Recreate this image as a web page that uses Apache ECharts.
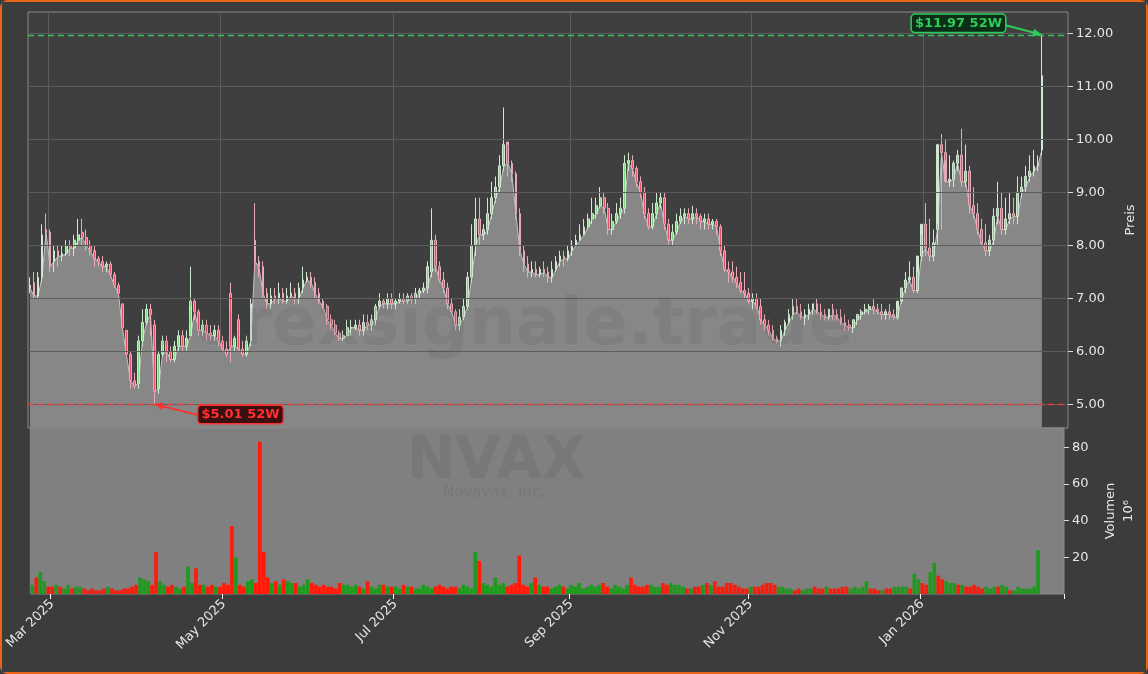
<!DOCTYPE html>
<html><head><meta charset="utf-8">
<script src="https://cdn.jsdelivr.net/npm/echarts@6/dist/echarts.min.js"></script>
<style>html,body{margin:0;padding:0;background:#3c3c3c;}#c{width:1148px;height:674px;box-sizing:border-box;border:2px solid #e8651a;border-radius:8px;}</style>
</head><body><div id="c"></div>
<script>
const opens=[7.2,7.3,7.05,7.4,8.3,8.25,7.7,7.9,7.8,7.85,
8.0,7.95,8.1,8.25,8.15,8.0,7.9,7.75,7.7,7.6,
7.65,7.45,7.25,6.9,6.4,5.95,5.45,5.4,6.2,6.55,
6.8,6.5,5.3,5.95,6.2,6.0,5.85,6.1,6.3,6.1,
6.3,6.95,6.75,6.4,6.5,6.35,6.3,6.4,6.2,6.05,
7.1,6.1,6.6,6.05,5.95,6.2,8.1,7.7,7.6,7.1,
6.9,7.05,7.0,7.1,6.95,7.05,7.1,7.0,7.2,7.35,
7.4,7.3,7.1,6.95,6.85,6.6,6.5,6.35,6.25,6.3,
6.45,6.45,6.5,6.4,6.55,6.5,6.6,6.85,6.95,6.9,
7.0,6.9,6.95,7.0,6.95,7.05,7.0,7.1,7.15,7.2,
7.5,8.1,7.6,7.35,7.2,6.9,6.75,6.5,6.65,6.85,
7.4,8.0,8.5,8.2,8.3,8.6,8.9,9.1,9.5,9.95,
9.55,9.35,8.6,7.9,7.65,7.5,7.55,7.45,7.55,7.5,
7.4,7.55,7.7,7.8,7.75,7.9,8.0,8.1,8.2,8.35,
8.5,8.6,8.75,8.9,8.7,8.3,8.45,8.6,8.7,9.55,
9.6,9.45,9.2,9.0,8.6,8.35,8.6,8.8,8.9,8.4,
8.1,8.25,8.45,8.55,8.6,8.5,8.6,8.55,8.45,8.5,8.4,8.45,
8.35,7.9,7.55,7.5,7.4,7.3,7.15,7.1,6.95,7.0,6.85,6.6,6.5,6.4,6.25,
6.2,6.4,6.55,6.7,6.85,6.75,6.65,6.7,6.8,6.9,
6.75,6.7,6.65,6.8,6.7,6.65,6.55,6.5,6.45,6.6,
6.7,6.75,6.8,6.85,6.8,6.75,6.7,6.75,6.7,6.65,6.95,7.2,
7.35,7.4,7.15,7.8,8.4,7.95,7.8,8.3,9.9,9.75,
9.2,9.25,9.55,9.7,9.2,9.4,8.75,8.6,8.3,8.05,
7.9,8.1,8.55,8.7,8.3,8.5,8.6,8.55,9.0,9.1,
9.3,9.4,9.5,9.8];
const closes=[7.25,7.05,7.4,8.2,8.25,7.6,7.9,7.8,7.85,8.0,
7.95,8.1,8.2,8.15,8.0,7.9,7.75,7.7,7.6,7.65,
7.45,7.25,7.1,6.45,5.95,5.45,5.35,6.2,6.55,6.8,
6.7,5.25,5.95,6.2,6.0,5.85,6.1,6.3,6.1,6.25,
6.95,6.75,6.4,6.5,6.35,6.3,6.4,6.2,6.05,5.95,
6.1,6.25,6.05,5.95,6.2,6.9,7.7,7.6,7.1,6.9,
7.05,7.0,7.1,6.95,7.05,7.1,7.0,7.2,7.35,7.4,
7.3,7.1,6.95,6.85,6.6,6.5,6.35,6.25,6.3,6.45,
6.45,6.5,6.4,6.55,6.5,6.6,6.85,6.95,6.9,7.0,
6.9,6.95,7.0,6.95,7.05,7.0,7.1,7.15,7.2,7.6,
8.1,7.6,7.35,7.2,6.9,6.75,6.5,6.65,6.85,7.4,
8.0,8.5,8.2,8.3,8.6,8.9,9.1,9.5,9.9,9.55,
9.35,8.6,7.9,7.65,7.5,7.55,7.45,7.55,7.5,7.4,
7.55,7.7,7.8,7.75,7.9,8.0,8.1,8.2,8.35,8.5,
8.6,8.75,8.9,8.7,8.3,8.45,8.6,8.7,9.55,9.6,
9.45,9.2,9.0,8.6,8.35,8.6,8.8,8.9,8.4,8.1,
8.25,8.45,8.55,8.6,8.5,8.6,8.55,8.45,8.5,8.4,8.45,8.35,
7.9,7.55,7.5,7.4,7.3,7.15,7.1,6.95,7.0,6.85,6.6,6.5,6.4,6.25,6.2,
6.4,6.55,6.7,6.85,6.75,6.65,6.7,6.8,6.9,6.75,
6.7,6.65,6.8,6.7,6.65,6.55,6.5,6.45,6.6,6.7,
6.75,6.8,6.85,6.8,6.75,6.7,6.75,6.7,6.65,6.95,7.2,7.35,
7.4,7.15,7.8,8.4,7.95,7.8,8.05,9.9,9.75,9.2,
9.25,9.55,9.7,9.2,9.4,8.75,8.6,8.3,8.05,7.9,
8.1,8.55,8.7,8.3,8.5,8.6,8.55,9.0,9.1,9.3,
9.4,9.5,9.55,11.2];
const highs=[7.4,7.5,7.5,8.4,8.6,8.3,8.0,8.0,8.0,8.1,
8.1,8.2,8.5,8.5,8.3,8.1,8.0,7.8,7.8,7.7,
7.7,7.5,7.3,6.9,6.4,6.0,5.6,6.3,6.8,6.9,
6.9,6.6,6.0,6.3,6.3,6.1,6.2,6.4,6.4,6.4,
7.6,7.0,6.8,6.6,6.6,6.5,6.5,6.5,6.3,6.2,
7.3,6.3,6.7,6.2,6.3,7.0,8.8,7.8,7.7,7.2,
7.2,7.2,7.3,7.2,7.2,7.3,7.2,7.3,7.6,7.5,
7.5,7.4,7.2,7.0,6.9,6.7,6.6,6.4,6.4,6.6,
6.6,6.6,6.6,6.7,6.7,6.7,6.9,7.1,7.0,7.1,
7.1,7.0,7.1,7.1,7.1,7.1,7.2,7.2,7.3,7.7,
8.7,8.2,7.7,7.5,7.3,7.0,6.8,6.8,7.0,7.5,
8.4,8.9,8.9,8.4,8.9,9.2,9.3,9.7,10.6,9.9,
9.6,9.4,8.7,8.0,7.8,7.7,7.7,7.6,7.7,7.6,
7.7,7.8,7.9,7.9,8.0,8.1,8.2,8.4,8.5,8.6,
8.9,8.9,9.1,9.0,8.8,8.6,8.8,8.9,9.7,9.75,
9.7,9.5,9.3,9.1,8.7,8.8,9.0,9.0,9.0,8.5,
8.4,8.6,8.7,8.7,8.7,8.75,8.7,8.6,8.6,8.6,8.5,8.5,
8.4,8.0,7.7,7.7,7.6,7.5,7.5,7.2,7.1,7.1,7.0,6.7,6.6,6.5,6.3,
6.5,6.6,6.8,7.0,7.0,6.9,6.8,6.9,6.9,7.0,
6.9,6.8,6.8,6.9,6.8,6.8,6.7,6.6,6.6,6.7,
6.8,6.9,6.9,7.0,6.9,6.9,6.8,6.9,6.8,6.8,7.2,7.5,
7.7,7.6,7.5,8.2,8.8,8.5,8.3,8.4,10.1,10.0,
9.7,9.6,9.8,10.2,9.9,9.5,9.1,8.8,8.5,8.4,
8.2,8.7,9.2,9.0,8.9,9.0,8.9,9.3,9.3,9.5,
9.7,9.8,9.7,11.97];
const lows=[7.1,7.0,7.0,7.3,8.0,7.5,7.5,7.6,7.7,7.8,
7.8,7.8,8.0,8.0,7.9,7.8,7.6,7.6,7.5,7.5,
7.4,7.2,7.0,6.4,5.9,5.3,5.3,5.3,6.1,6.5,
6.3,5.01,5.2,5.9,5.8,5.8,5.8,6.0,6.0,6.0,
6.3,6.6,6.3,6.3,6.2,6.2,6.2,6.1,6.0,5.9,
5.8,6.0,6.0,5.9,5.9,6.1,7.5,7.4,7.0,6.8,
6.8,6.9,6.9,6.9,6.9,7.0,6.9,6.9,7.1,7.3,
7.2,7.0,6.9,6.8,6.5,6.4,6.3,6.2,6.2,6.3,
6.3,6.4,6.3,6.3,6.4,6.4,6.5,6.8,6.8,6.8,
6.8,6.8,6.9,6.9,6.9,6.9,6.9,7.0,7.1,7.1,
7.4,7.5,7.3,7.1,6.8,6.7,6.4,6.4,6.6,6.8,
7.3,7.8,8.0,8.1,8.2,8.5,8.8,9.0,9.4,9.3,
9.2,8.5,7.8,7.5,7.4,7.4,7.4,7.4,7.4,7.3,
7.3,7.5,7.6,7.6,7.7,7.8,8.0,8.1,8.2,8.3,
8.4,8.5,8.7,8.6,8.2,8.2,8.4,8.5,8.6,9.4,
9.3,9.1,8.9,8.5,8.3,8.3,8.5,8.7,8.3,8.0,
8.0,8.2,8.4,8.4,8.4,8.4,8.4,8.3,8.3,8.3,8.3,8.2,
7.8,7.5,7.3,7.3,7.2,7.1,7.0,6.9,6.8,6.8,6.5,6.4,6.3,6.2,6.15,
6.1,6.3,6.5,6.6,6.7,6.6,6.5,6.6,6.7,6.7,
6.6,6.6,6.6,6.6,6.6,6.5,6.4,6.4,6.35,6.5,
6.6,6.7,6.7,6.7,6.7,6.6,6.6,6.6,6.6,6.6,6.9,7.1,
7.3,7.1,7.1,7.7,7.8,7.7,7.7,8.0,8.3,9.6,
9.1,9.1,9.4,9.1,9.1,8.6,8.5,8.2,8.0,7.8,
7.8,8.0,8.4,8.2,8.2,8.4,8.4,8.4,8.9,9.0,
9.2,9.3,9.4,9.7];
const volumes=[5,9,12,7,4,4,5,4,3,5,
3,4,4,3,2,3,2,2,3,4,
3,2,2,3,3,4,5,9,8,7,
5,23,7,5,4,5,4,3,4,15,
6,14,5,5,4,5,4,4,6,5,
37,20,5,4,7,8,6,83,23,9,
6,7,5,8,7,6,6,4,5,8,
6,5,4,5,4,4,3,6,5,5,
4,5,4,3,7,4,3,5,5,4,
4,4,3,5,4,4,3,3,5,4,
3,4,5,4,3,4,4,3,5,4,
3,23,18,6,5,4,9,5,6,4,
5,6,21,5,4,6,9,5,4,4,
3,4,5,4,3,5,4,6,3,4,
5,4,5,6,4,3,5,4,3,5,
9,5,4,4,5,5,4,4,6,5,
6,5,5,4,3,3,4,4,5,6,
5,7,4,4,6,6,5,4,3,3,
4,4,4,5,6,6,5,4,4,3,
3,2,3,2,3,3,4,3,3,4,
3,3,3,4,4,3,4,3,4,7,
3,3,2,2,3,3,4,4,4,4,
3,11,8,6,5,12,17,10,8,7,
6,6,5,5,4,4,5,4,3,4,
3,4,4,5,4,2,2,4,3,3,
3,4,24];
const priceTicks=[5,6,7,8,9,10,11,12];
const volumeTicks=[20,40,60,80];
const startDate='2025-02-24';
const high52=11.97, low52=5.01;
const monthNames=['Jan','Feb','Mar','Apr','May','Jun','Jul','Aug','Sep','Oct','Nov','Dec'];

const padSlots=6;
const dates=[];
{let d=new Date(startDate+'T00:00:00Z');
 while(dates.length<closes.length+padSlots){const w=d.getUTCDay(); if(w!==0&&w!==6) dates.push(d.toISOString().slice(0,10)); d.setUTCDate(d.getUTCDate()+1);}}
const tickIdx=new Set();
for(let i=1;i<dates.length;i++){const m=+dates[i].slice(5,7), pm=+dates[i-1].slice(5,7); if(m!==pm && m%2===1) tickIdx.add(i);}
const isTick=(i)=>tickIdx.has(i);
const fmtMonth=(v)=>monthNames[+v.slice(5,7)-1]+' '+v.slice(0,4);

const ohlc=closes.map((c,i)=>[opens[i],c,lows[i],highs[i]]);
const bodyLow=closes.map((c,i)=>Math.min(c,opens[i]));
const volData=volumes.map((v,i)=>({value:v,itemStyle:{color:closes[i]>=opens[i]?'#1f9a1f':'#ff1a0a'}}));

const chart=echarts.init(document.getElementById('c'),null,{renderer:'canvas'});
const lab={color:'#e6e6e6',fontSize:13,fontFamily:'DejaVu Sans'};
chart.setOption({
  backgroundColor:'#3c3c3c',
  animation:false,
  grid:[{left:26,right:78,top:10,height:416,show:true,backgroundColor:'#3f3f3f',borderColor:'#8a8a8a',borderWidth:1},
        {left:26,right:78,top:426,height:166,show:true,backgroundColor:'#808080',borderColor:'#8a8a8a',borderWidth:1}],
  xAxis:[{type:'category',gridIndex:0,data:dates,boundaryGap:true,axisLine:{show:false},axisTick:{show:false},axisLabel:{show:false},
          splitLine:{show:true,interval:isTick,lineStyle:{color:'#5c5c5c',width:1}}},
         {type:'category',gridIndex:1,data:dates,boundaryGap:true,axisLine:{show:false},
          axisTick:{show:true,interval:isTick,length:5,lineStyle:{color:'#ffffff'}},
          axisLabel:Object.assign({interval:isTick,rotate:45,formatter:fmtMonth,margin:8},lab),splitLine:{show:false}}],
  yAxis:[{type:'value',gridIndex:0,position:'right',min:4.56,max:12.4,
          axisLabel:Object.assign({customValues:priceTicks,formatter:v=>v.toFixed(2),margin:8},lab),
          axisTick:{show:true,customValues:priceTicks,length:5,lineStyle:{color:'#ddd'}},axisLine:{show:false},
          splitLine:{show:false},
          name:'Preis',nameLocation:'middle',nameGap:44,nameRotate:90,nameTextStyle:{color:'#e6e6e6',fontSize:13,fontFamily:'DejaVu Sans'}},
         {type:'value',gridIndex:1,position:'right',min:0,max:90.5,
          axisLabel:Object.assign({customValues:volumeTicks,margin:8},lab),
          axisTick:{show:true,customValues:volumeTicks,length:5,lineStyle:{color:'#ddd'}},axisLine:{show:false},splitLine:{show:false},
          name:'Volumen\n10⁶',nameLocation:'middle',nameGap:38,nameRotate:90,nameTextStyle:{color:'#e6e6e6',fontSize:13,fontFamily:'DejaVu Sans',lineHeight:18}}],
  series:[
    {type:'line',xAxisIndex:0,yAxisIndex:0,data:[],z:0,silent:true,
     markLine:{symbol:'none',silent:true,label:{show:false},lineStyle:{color:'#5c5c5c',type:'solid',width:1},
       data:priceTicks.map(v=>({yAxis:v}))}},
    {type:'line',xAxisIndex:0,yAxisIndex:0,data:bodyLow,symbol:'none',z:1,
     lineStyle:{color:'#c4c4c4',width:1},areaStyle:{color:'#878787',opacity:1,origin:'start'}},
    {type:'candlestick',xAxisIndex:0,yAxisIndex:0,data:ohlc,barWidth:'55%',z:3,
     itemStyle:{color:'#7ed67e',color0:'#e8506e',borderColor:'#cfe8cf',borderColor0:'#e8aab6',borderWidth:1},
     markLine:{symbol:'none',silent:true,label:{show:false},
       data:[{yAxis:high52,lineStyle:{color:'#2ec45a',type:[6,4],width:1.3}},{yAxis:low52,lineStyle:{color:'#e8403a',type:[6,4],width:1.3}}]}},
    {type:'bar',xAxisIndex:1,yAxisIndex:1,data:volData,barCategoryGap:'8%'}
  ]
});

const iHi=highs.indexOf(Math.max(...highs)), iLo=lows.indexOf(Math.min(...lows));
const pHi=chart.convertToPixel({xAxisIndex:0,yAxisIndex:0},[iHi,high52]);
const pLo=chart.convertToPixel({xAxisIndex:0,yAxisIndex:0},[iLo,low52]);
const gfx=[];
function note(p,txt,dx,dy,col,bg){
  const bx=p[0]+dx, by=p[1]+dy, ax=bx+(dx<0?88:0);
  gfx.push({type:'line',shape:{x1:ax,y1:by+9,x2:p[0],y2:p[1]},style:{stroke:col,lineWidth:2},z:20});
  const a=Math.atan2(p[1]-(by+9),p[0]-ax);
  gfx.push({type:'polygon',shape:{points:[[p[0],p[1]],[p[0]-9*Math.cos(a)+4*Math.sin(a),p[1]-9*Math.sin(a)-4*Math.cos(a)],[p[0]-9*Math.cos(a)-4*Math.sin(a),p[1]-9*Math.sin(a)+4*Math.cos(a)]]},style:{fill:col},z:20});
  gfx.push({type:'text',x:bx,y:by,z:21,style:{text:txt,fill:col,font:'bold 13px DejaVu Sans',backgroundColor:bg,borderColor:col,borderWidth:1.5,borderRadius:3,padding:[2,3]}});
}
note(pHi,'$11.97 52W',-130,-20,'#2ecc5a','#0c2e16');
note(pLo,'$5.01 52W',44,2,'#ff3030','#3a0f0f');
gfx.push({type:'text',x:150,y:292,z:10,silent:true,style:{text:'Forexsignale.trade',fill:'rgba(50,50,50,0.09)',font:'bold 66px DejaVu Sans'}});
gfx.push({type:'text',x:405,y:432,z:10,silent:true,style:{text:'NVAX',fill:'rgba(50,50,50,0.1)',font:'bold 58px DejaVu Sans'}});
gfx.push({type:'text',x:441,y:484,z:10,silent:true,style:{text:'Novavax, Inc.',fill:'rgba(50,50,50,0.1)',font:'15px DejaVu Sans'}});
chart.setOption({graphic:gfx});
</script></body></html>
